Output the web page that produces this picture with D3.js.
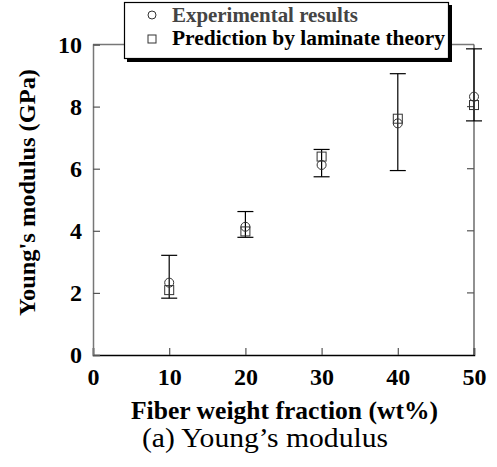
<!DOCTYPE html>
<html><head><meta charset="utf-8">
<script src="https://cdn.jsdelivr.net/npm/d3@7"></script>
<style>body{margin:0;background:#fff}svg{display:block}</style>
</head><body>
<svg id="c" width="497" height="467"></svg>
<script>
const fiber = [10, 20, 30, 40, 50];
const experimental = [2.33, 4.13, 6.12, 7.46, 8.32];
const errLow = [1.83, 3.79, 5.74, 5.94, 7.54];
const errHigh = [3.21, 4.62, 6.62, 9.06, 9.86];
const prediction = [2.09, 3.98, 6.39, 7.61, 8.05];
const xTicks = [0, 10, 20, 30, 40, 50];
const yTicks = [0, 2, 4, 6, 8, 10];
const legendLabels = ["Experimental results", "Prediction by laminate theory"];

const svg = d3.select("#c");
const font = "'Liberation Serif','Times New Roman',serif";
const x = d3.scaleLinear().domain([0, 50]).range([93, 474]);
const y = d3.scaleLinear().domain([0, 10]).range([355, 44.5]);

// frame
svg.append("line").attr("x1", x(0)).attr("x2", x(50)).attr("y1", y(10)).attr("y2", y(10)).attr("stroke", "#777").attr("stroke-width", 1.3);
svg.append("line").attr("x1", x(50)).attr("x2", x(50)).attr("y1", y(10)).attr("y2", y(0)).attr("stroke", "#555").attr("stroke-width", 1.3);

const gx = svg.append("g").attr("transform", `translate(0,${y(0)})`)
  .call(d3.axisBottom(x).tickValues(xTicks).tickSize(-7).tickPadding(13).tickFormat(d3.format("d")));
const gy = svg.append("g").attr("transform", `translate(${x(0)},0)`)
  .call(d3.axisLeft(y).tickValues(yTicks).tickSize(-7).tickPadding(11).tickFormat(d3.format("d")));
gx.select(".domain").attr("stroke", "#000").attr("stroke-width", 1.5);
gy.select(".domain").attr("stroke", "#777").attr("stroke-width", 1.5);
[gx, gy].forEach(g => {
  g.selectAll(".tick line").attr("stroke", "#555").attr("stroke-width", 1.2);
  g.selectAll(".tick text").attr("font-family", font).attr("font-weight", "bold").attr("font-size", 24).attr("fill", "#000");
});
gy.selectAll(".tick text").attr("dy", "0.32em");
// right axis ticks
svg.append("g").selectAll("line").data(yTicks.slice(1, -1)).join("line")
  .attr("x1", x(50) - 7).attr("x2", x(50)).attr("y1", d => y(d)).attr("y2", d => y(d))
  .attr("stroke", "#555").attr("stroke-width", 1.2);

// error bars
const eb = svg.append("g").attr("stroke", "#000").attr("stroke-width", 1.2);
fiber.forEach((f, i) => {
  eb.append("line").attr("x1", x(f)).attr("x2", x(f)).attr("y1", y(errLow[i])).attr("y2", y(errHigh[i]));
  eb.append("line").attr("x1", x(f) - 8).attr("x2", x(f) + 8).attr("y1", y(errLow[i])).attr("y2", y(errLow[i]));
  eb.append("line").attr("x1", x(f) - 8).attr("x2", x(f) + 8).attr("y1", y(errHigh[i])).attr("y2", y(errHigh[i]));
});
// markers
svg.append("g").selectAll("circle").data(fiber).join("circle")
  .attr("cx", d => x(d)).attr("cy", (d, i) => y(experimental[i])).attr("r", 4.5)
  .attr("fill", "none").attr("stroke", "#333").attr("stroke-width", 1);
svg.append("g").selectAll("rect").data(fiber).join("rect")
  .attr("x", d => x(d) - 4.5).attr("y", (d, i) => y(prediction[i]) - 4.5).attr("width", 9).attr("height", 9)
  .attr("fill", "none").attr("stroke", "#333").attr("stroke-width", 1);

// legend
const lg = svg.append("g");
lg.append("rect").attr("x", 127).attr("y", 5).attr("width", 325).attr("height", 57).attr("fill", "#000");
lg.append("rect").attr("x", 124.5).attr("y", 2.5).attr("width", 324).attr("height", 56).attr("fill", "#fff").attr("stroke", "#000").attr("stroke-width", 1.2);
lg.append("circle").attr("cx", 152).attr("cy", 15).attr("r", 4).attr("fill", "none").attr("stroke", "#333");
lg.append("rect").attr("x", 148).attr("y", 35).attr("width", 8).attr("height", 8).attr("fill", "none").attr("stroke", "#333");
const legendLen = [186, 273];
lg.selectAll("text").data(legendLabels).join("text")
  .attr("x", 172).attr("y", (d, i) => 21.5 + i * 23).text(d => d)
  .attr("textLength", (d, i) => legendLen[i]).attr("lengthAdjust", "spacingAndGlyphs")
  .attr("font-family", font).attr("font-weight", "bold").attr("font-size", 21)
  .attr("fill", (d, i) => i === 0 ? "#444" : "#000");

// axis titles
svg.append("text").attr("x", 131).attr("y", 419)
  .attr("textLength", 307).attr("lengthAdjust", "spacingAndGlyphs")
  .attr("font-family", font).attr("font-weight", "bold").attr("font-size", 25).text("Fiber weight fraction (wt%)");
svg.append("text").attr("transform", "translate(34.5,316) rotate(-90)")
  .attr("textLength", 247).attr("lengthAdjust", "spacingAndGlyphs")
  .attr("font-family", font).attr("font-weight", "bold").attr("font-size", 24).text("Young's modulus (GPa)");
svg.append("text").attr("x", 142).attr("y", 447)
  .attr("textLength", 246).attr("lengthAdjust", "spacingAndGlyphs")
  .attr("font-family", font).attr("font-size", 28).text("(a) Young\u2019s modulus");
</script>
</body></html>
